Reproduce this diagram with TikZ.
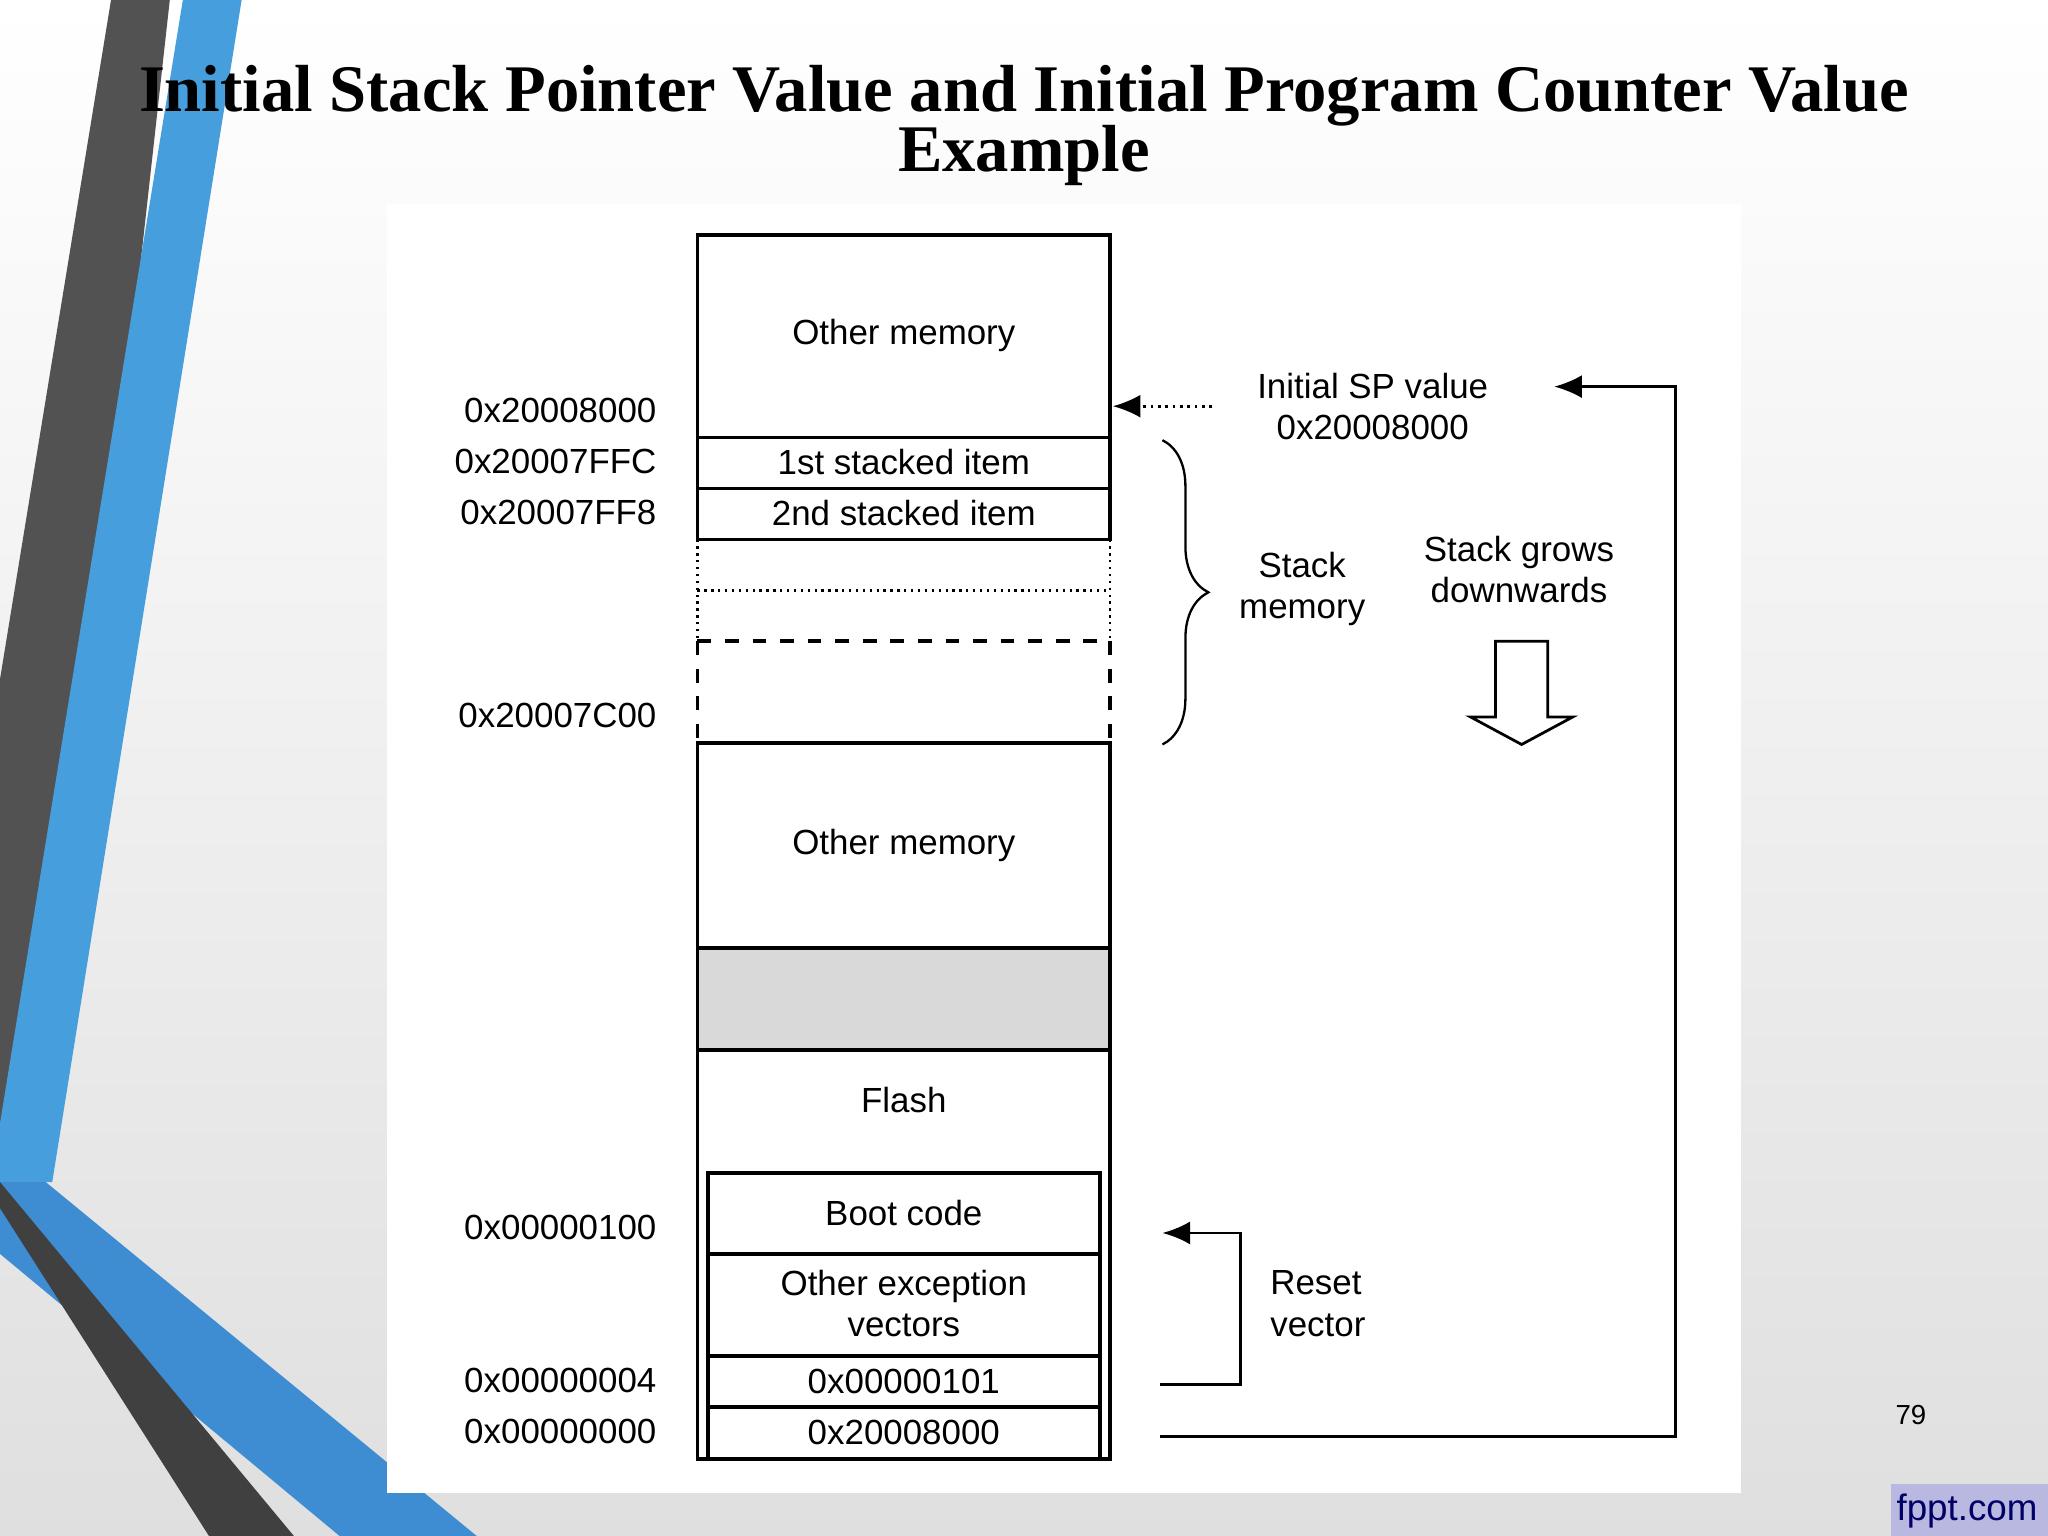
\documentclass[tikz,border=0pt]{standalone}
\usepackage{fontspec}
\setmainfont{Liberation Sans}
\newfontfamily\ttl{Liberation Serif}
\usetikzlibrary{arrows.meta,decorations.pathreplacing}
\begin{document}
\begin{tikzpicture}[x=0.01cm,y=-0.01cm,
 txt/.style={font=\fontsize{7.6pt}{9pt}\selectfont,align=center},
 addr/.style={font=\fontsize{7.6pt}{9pt}\selectfont,anchor=east},
 box/.style={draw,line width=0.8pt},
 arr/.style={-{Latex[length=6pt,width=5pt]},line width=0.6pt}]
\shade[top color=white,bottom color=gray!25] (0,0) rectangle (1568,1176);
\useasboundingbox (0,0) rectangle (1568,1176);
% decorative stripes
\fill[gray!30!black!80] (85,0) -- (130,0) -- (30,900) -- (0,900) -- (0,520) -- cycle;
\fill[cyan!70!blue!75] (140,0) -- (185,0) -- (40,905) -- (0,905) -- (0,860) -- cycle;
\fill[cyan!60!blue!80] (0,905) -- (35,905) -- (365,1176) -- (260,1176) -- (0,960) -- cycle;
\fill[black!75] (0,925) -- (160,1176) -- (225,1176) -- (0,905) -- cycle;
% title
\node[font=\ttl\bfseries\fontsize{14.5pt}{16pt}\selectfont] (t1) at (784,73) {Initial Stack Pointer Value and Initial Program Counter Value};
\node[font=\ttl\bfseries\fontsize{14.5pt}{16pt}\selectfont] (t2) at (784,119) {Example};
% panel
\fill[white] (296,156) rectangle (1333,1143);
% column
\draw[box] (534,180) rectangle (850,335);
\node[txt] (om1) at (692,257) {Other memory};
\draw[box] (534,335) rectangle (850,374);
\node[txt] (s1) at (692,354) {1st stacked item};
\draw[box] (534,374) rectangle (850,413);
\node[txt] (s2) at (692,393) {2nd stacked item};
\draw[densely dotted,line width=0.5pt] (534,413) -- (534,491) (850,413) -- (850,491) (534,452) -- (850,452);
\draw[dashed,line width=0.8pt] (534,491) -- (850,491) (534,491) -- (534,569) (850,491) -- (850,569);
\draw[box] (534,569) rectangle (850,726);
\node[txt] (om2) at (692,647) {Other memory};
\draw[box,fill=gray!30] (534,726) rectangle (850,804);
\draw[box] (534,804) -- (534,1117) -- (850,1117) -- (850,804);
\node[txt] (fl) at (692,842) {Flash};
\draw[box] (542,898) rectangle (842,960);
\node[txt] (bc) at (692,929) {Boot code};
\draw[box] (542,960) rectangle (842,1038);
\node[txt] (oe) at (692,998) {Other exception\\vectors};
\draw[box] (542,1038) rectangle (842,1077);
\node[txt] (v1) at (692,1058) {0x00000101};
\draw[box] (542,1077) rectangle (842,1117);
\node[txt] (v0) at (692,1097) {0x20008000};
% addresses
\node[addr] at (515,314) {0x20008000};
\node[addr] at (515,353) {0x20007FFC};
\node[addr] at (515,392) {0x20007FF8};
\node[addr] at (515,548) {0x20007C00};
\node[addr] at (515,940) {0x00000100};
\node[addr] at (515,1057) {0x00000004};
\node[addr] at (515,1096) {0x00000000};
% SP
\coordinate (sps) at (928,311); \coordinate (spe) at (852,311);
\draw[arr,densely dotted] (sps) -- (spe);
\node[txt] (sp) at (1051,311) {Initial SP value\\0x20008000};
\coordinate (b0) at (888,1100); \coordinate (b1) at (1190,296);
\draw[arr] (b0) -- (1283,1100) -- (1283,296) -- (b1);
% brace
\draw[decorate,decoration={brace,amplitude=10pt},line width=0.5pt] (890,337) -- (890,570);
\node[txt] (sm) at (997,451) {Stack\\memory};
\node[txt] (sg) at (1163,436) {Stack grows\\downwards};
\draw[line width=0.6pt] (1145,491) -- (1185,491) -- (1185,549) -- (1204,549) -- (1165,570) -- (1126,549) -- (1145,549) -- cycle;
% reset
\coordinate (r0) at (888,1060); \coordinate (r1) at (890,944);
\draw[arr] (r0) -- (950,1060) -- (950,944) -- (r1);
\node[txt,align=left] (rv) at (1009,998) {Reset\\vector};
\node[font=\fontsize{6pt}{7pt}\selectfont] (pn) at (1463,1083) {79};
\fill[gray!60!blue!40] (1448,1136) rectangle (1568,1176);
\node[font=\fontsize{8pt}{9pt}\selectfont,text=blue!40!black] (fp) at (1506,1157) {fppt.com};
\end{tikzpicture}
\end{document}
